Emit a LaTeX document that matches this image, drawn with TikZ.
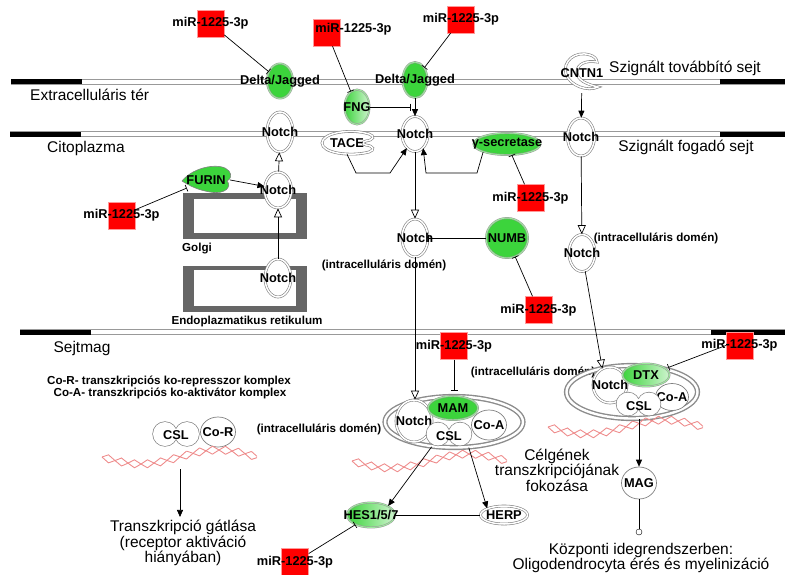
\documentclass[tikz,border=0pt]{standalone}
\usepackage{fontspec}
\setmainfont{Liberation Sans}
\usetikzlibrary{arrows.meta,shapes.geometric,calc}
\definecolor{ngreen}{RGB}{60,212,60}
\definecolor{dnared}{RGB}{238,140,140}
\tikzset{
  lbl/.style={font=\fontsize{12.8}{14}\selectfont\bfseries,inner sep=0pt},
  sml/.style={font=\fontsize{11.6}{13}\selectfont\bfseries,inner sep=0pt},
  big/.style={font=\fontsize{15.5}{15.5}\selectfont,align=center,inner sep=0pt},
  sz/.style 2 args={minimum width=#1pt,minimum height=#2pt},
  lab/.style={label={[lbl]center:#1}},
  wnode/.style={ellipse,draw=gray,double=white,double distance=1.5pt,line width=0.6pt,fill=white,inner sep=0pt},
  notch/.style={wnode,lab=Notch},
  plain/.style={ellipse,draw=gray,line width=0.7pt,fill=white,inner sep=0pt},
  gnode/.style={ellipse,draw=gray!80,double=ngreen!50!white,double distance=0.9pt,line width=0.5pt,fill=ngreen,inner sep=0pt},
  gshade/.style={gnode,left color=ngreen,right color=ngreen!25!white},
  cplx/.style={ellipse,draw=gray!90,double=white,double distance=2.4pt,line width=1.4pt,inner sep=0pt},
  mir/.style={rectangle,fill=red,draw=red!40!white,line width=0.4pt,minimum size=27pt,inner sep=0pt,
              label={[lbl,#1]center:miR-1225-3p}},
  mir/.default={},
  tshape/.style={draw=gray,double=white,double distance=1.5pt,line width=0.6pt},
  memb/.style={draw=gray!80,fill=white,line width=0.6pt},
  dna/.style={dnared,line width=0.9pt},
  act/.style={-{Triangle[length=7pt,width=6pt]},line width=0.7pt},
  conv/.style={-{Triangle[fill=white,length=9pt,width=8pt]},line width=0.7pt},
  inh/.style={-{Bar[width=7pt]},line width=0.7pt}}

\begin{document}
\begin{tikzpicture}[x=1pt,y=-1pt]
  \useasboundingbox (0,0) rectangle (785,574);
  % membranes
  \draw[memb] (11,79) rectangle (786,84); \fill (11,79) rectangle (82,84); \fill (720,79) rectangle (786,84);
  \draw[memb] (10,131.5) rectangle (786,136.5); \fill (10,131.5) rectangle (81,136.5); \fill (720,131.5) rectangle (786,136.5);
  \draw[memb] (20,329.5) rectangle (786,334.5); \fill (20,329.5) rectangle (91,334.5); \fill (711,329.5) rectangle (786,334.5);
  % Golgi, ER
  \fill[black!60] (183,193) rectangle (307,239); \fill[white] (194,199) rectangle (296,233);
  \fill[black!60] (183,266) rectangle (307,312); \fill[white] (194,270) rectangle (296,306);

  \node[big,anchor=west] (extra) at (30,95) {Extracelluláris tér};
  \node[big,anchor=west] (cito) at (47,148) {Citoplazma};
  \node[big] (kuldo) at (685,68) {Szignált továbbító sejt};
  \node[big] (fogado) at (686,147) {Szignált fogadó sejt};
  \node[big] (sejtmag) at (82,348) {Sejtmag};
  \node[sml,anchor=west] (golgi) at (182,249) {Golgi};
  \node[sml] (er) at (247,321) {Endoplazmatikus retikulum};
  \node[sml] (kor) at (169,381) {Co-R- transzkripciós ko-represszor komplex};
  \node[sml] (koa) at (170,393) {Co-A- transzkripciós ko-aktivátor komplex};
  \node[sml] (dom1) at (384,265) {(intracelluláris domén)};
  \node[sml] (dom2) at (656,238) {(intracelluláris domén)};
  \node[sml] (dom3) at (319,429) {(intracelluláris domén)};
  \node[sml] (dom4) at (533,372) {(intracelluláris domén)};
  \node[big] (txtL) at (183,543) {Transzkripció gátlása\\(receptor aktiváció\\hiányában)};
  \node[big] (txtM) at (557,470) {Célgének\\transzkripciójának\\fokozása};
  \node[big] (txtR) at (641,558) {Központi idegrendszerben:\\Oligodendrocyta érés és myelinizáció};

  % TACE, CNTN1, FURIN
  \draw[tshape,fill=white] (369,134) .. controls (350,128) and (322,133) .. (322,143)
    .. controls (322,153) and (350,157) .. (369,152) .. controls (375,150) and (374,146) .. (366,145)
    .. controls (362,144) and (362,142) .. (366,141) .. controls (374,140) and (375,136) .. (369,134) -- cycle;
  \node[ellipse,sz={50}{22},inner sep=0pt,lab=TACE] (tace) at (347,143) {};
  \draw[tshape,fill=white] (590,55) .. controls (575,50) and (562,62) .. (566,74)
    .. controls (570,86) and (588,92) .. (598,87) .. controls (586,84) and (577,80) .. (577,72)
    .. controls (577,64) and (586,60) .. (597,62) .. controls (597,59) and (594,56) .. (590,55) -- cycle;
  \node[ellipse,sz={32}{40},inner sep=0pt,lab=CNTN1] (cntn) at (582,73) {};
  \draw[draw=gray,line width=0.6pt,fill=ngreen] (182,181) .. controls (194,166) and (222,162) .. (229,171)
    .. controls (232,175) and (231,179) .. (227,181) .. controls (232,186) and (226,195) .. (210,192)
    .. controls (198,190) and (190,186) .. (182,181) -- cycle;
  \node[ellipse,sz={48}{26},inner sep=0pt,lab=FURIN] (furin) at (206,180) {};

  % membrane and cytoplasm nodes
  \node[gnode,sz={26}{35},lab=Delta/Jagged] (dj1) at (280,81) {};
  \node[gnode,sz={25}{36},lab=Delta/Jagged] (dj2) at (415,80) {};
  \node[gshade,sz={25}{35},lab=FNG] (fng) at (357,107) {};
  \node[notch,sz={26}{40}] (nA) at (280,132) {};
  \node[notch,sz={26}{35}] (nB) at (415,134) {};
  \node[notch,sz={27}{38}] (nC) at (581,137) {};
  \node[notch,sz={27}{36}] (nG) at (278,190) {};
  \node[notch,sz={26}{38}] (nER) at (278,278) {};
  \node[notch,sz={26}{38}] (nD) at (415,238) {};
  \node[notch,sz={26}{37}] (nE) at (582,253) {};
  \node[gnode,sz={67}{22},lab=γ-secretase] (gsec) at (507,144) {};
  \node[gnode,sz={42}{40},lab=NUMB] (numb) at (507,238) {};

  % nucleus
  \path[draw=gray,line width=1.3pt] (165,434) circle (12pt) (187,434) circle (12pt);
  \fill[white] (165,434) circle (12pt) (187,434) circle (12pt);
  \node[lbl] (csl0) at (176,435) {CSL};
  \node[plain,sz={35}{30},lab=Co-R] (cor) at (218,432) {};

  \node[cplx,sz={138}{51}] (cx1) at (454,422) {};
  \node[plain,sz={35}{30},lab=Co-A] (coa1) at (489,425) {};
  \node[notch,sz={36}{42}] (nM1) at (414,421) {};
  \path[draw=gray,line width=1.3pt] (438,434) circle (11.5pt) (460,434) circle (11.5pt);
  \fill[white] (438,434) circle (11.5pt) (460,434) circle (11.5pt);
  \node[lbl] (csl1) at (449,436) {CSL};
  \node[gnode,sz={50}{24},lab=MAM] (mam) at (453,408) {};

  \node[cplx,sz={131}{53}] (cx2) at (632,392) {};
  \node[plain,sz={33}{27},lab=Co-A] (coa2) at (672,397) {};
  \node[notch,sz={34}{36}] (nM2) at (610,385) {};
  \path[draw=gray,line width=1.3pt] (628,404) circle (11.5pt) (649,404) circle (11.5pt);
  \fill[white] (628,404) circle (11.5pt) (649,404) circle (11.5pt);
  \node[lbl] (csl2) at (639,406) {CSL};
  \node[gshade,sz={47}{23},lab=DTX] (dtx) at (646,375) {};

  % DNA
  \foreach \dx/\dy in {0/0,250/4,446/-30} {
    \draw[dna] plot[domain=102:257,samples=240] ({\x+\dx},{457+\dy+7*sin((\x-102)/155*360)+4*asin(sin((\x-102)/26*360))/90});
    \draw[dna] plot[domain=102:257,samples=240] ({\x+\dx},{457+\dy+7*sin((\x-102)/155*360)-4*asin(sin((\x-102)/26*360))/90});
  }

  \node[gshade,sz={48}{25},lab=HES1/5/7] (hes) at (371,515) {};
  \node[wnode,sz={47}{18},lab=HERP] (herp) at (504,515) {};
  \node[plain,sz={35}{32},lab=MAG] (mag) at (639,483) {};
  \node[circle,draw,fill=white,minimum size=6pt,inner sep=0pt] (endc) at (639,532) {};

  % miR-1225-3p
  \node[mir] (m1) at (210.5,23.5) {};
  \node[mir={xshift=26.5pt,yshift=3.5pt}] (m2) at (327,32.5) {};
  \node[mir] (m3) at (461,19.5) {};
  \node[mir] (m4) at (121.5,215.5) {};
  \node[mir] (m5) at (530.5,198) {};
  \node[mir] (m6) at (538.5,310) {};
  \node[mir] (m7) at (454,346) {};
  \node[mir] (m8) at (739.5,345.5) {};
  \node[mir] (m9) at (295,562) {};

  % connectors
  \coordinate (djn) at (411,107);
  \coordinate (dnaL) at (180,469);
  \draw[act] (dj2) -- (nB);
  \draw[inh] (fng) -- (djn);
  \draw[act] (cntn) -- (nC);
  \draw[act] (tace.south) -- (356,173) -- (390,173) -- (nB.240);
  \draw[act] (gsec.south west) -- (477,173) -- (426,173) -- (nB.300);
  \draw[conv] (nB) -- (nD);
  \draw[conv] (nC) -- (nE);
  \draw[inh] (numb) -- (nD);
  \draw[act] (furin.east) -- (nG.165);
  \draw[conv] (nER) -- (nG);
  \draw[conv] (nG) -- (nA);
  \draw[conv] (nD.south) -- (nD.south |- nM1.north);
  \draw[conv] (nE) -- (nM2.115);
  \draw[act] (cx1.228) -- (hes.north east);
  \draw[act] (cx1.300) -- (herp.north west);
  \draw[line width=0.7pt] (hes) -- (herp);
  \draw[act] (cx2.south -| mag) -- (mag);
  \draw[line width=0.7pt] (mag) -- (endc);
  \draw[act,shorten >=3pt] (dnaL) -- (dnaL |- txtL.north);
  \draw[inh] (m1) -- (dj1);
  \draw[inh] (m2) -- (fng);
  \draw[inh] (m3) -- (dj2);
  \draw[inh] (m4) -- (furin);
  \draw[inh] (m5) -- (gsec);
  \draw[inh] (m6) -- (numb);
  \draw[inh,shorten >=5pt] (m7) -- (cx1.north);
  \draw[inh,shorten >=3pt] (m8.west) -- (cx2.35);
  \draw[inh] (m9) -- (hes);
\end{tikzpicture}
\end{document}
